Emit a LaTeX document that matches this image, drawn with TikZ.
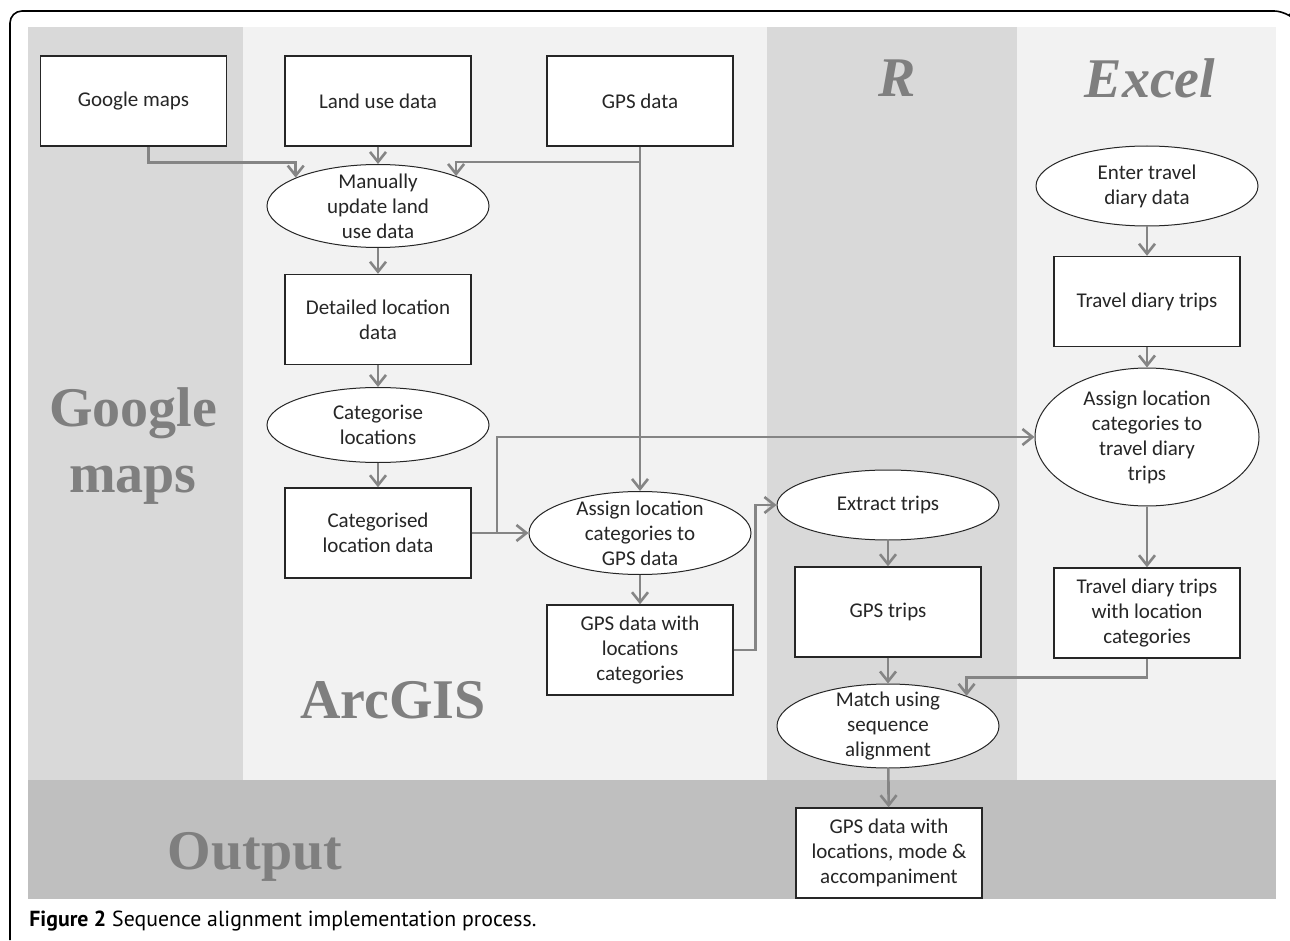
\documentclass[tikz,border=0pt]{standalone}
\usepackage{fontspec}
\setmainfont{Carlito}
\newfontfamily\capfont{PT Sans}
\newfontfamily\bigfont{Liberation Serif}
\usetikzlibrary{shapes.geometric, arrows.meta}
\definecolor{darkpanel}{HTML}{D9D9D9}
\definecolor{lightpanel}{HTML}{F2F2F2}
\definecolor{outband}{HTML}{BFBFBF}
\definecolor{zonegray}{HTML}{7F7F7F}
\definecolor{linkgray}{HTML}{858585}
\newcommand{\boxfont}{\fontsize{10.5}{12.5}\selectfont}
\tikzset{
    >={Straight Barb[length=5pt, width=8pt]}, % open arrow heads
    databox/.style={draw=black!85, line width=0.7pt, fill=white, minimum width=93pt, minimum height=45pt, align=center, font=\boxfont, text=black!85}, % data boxes
    procell/.style={ellipse, draw=black!85, line width=0.5pt, fill=white, minimum width=111pt, minimum height=41.5pt, inner sep=0pt,
        label={[align=center, font=\boxfont, text=black!85]center:#1}}, % process ellipses, text laid over them
    link/.style={->, draw=linkgray, line width=1.3pt}, % grey connectors
    zone/.style={font=\bigfont\bfseries\fontsize{28}{33}\selectfont, text=zonegray, align=center} % column titles
}

\begin{document}
\begin{tikzpicture}[x=0.5pt, y=-0.5pt]
    \useasboundingbox (0,0) rectangle (1290,941);

    % Columns
    \fill[darkpanel] (28,27) rectangle (243,780);
    \fill[lightpanel] (243,27) rectangle (767,780);
    \fill[darkpanel] (767,27) rectangle (1017,780);
    \fill[lightpanel] (1017,27) rectangle (1276,780);
    \fill[outband] (28,780) rectangle (1276,899);
    \draw[line width=0.8pt, rounded corners=6pt] (10,940) -- (10,11) -- (1286,11) -- (1289,14);

    % Column titles
    \node[zone] (ZG) at (133,446) {Google\\maps};
    \node[zone] (ZA) at (393,700) {ArcGIS};
    \node[zone, font=\bigfont\bfseries\itshape\fontsize{28}{33}\selectfont] (ZR) at (897,78) {R};
    \node[zone, font=\bigfont\bfseries\itshape\fontsize{28}{33}\selectfont] (ZE) at (1150,78) {Excel};
    \node[zone] (ZO) at (255,857) {Output};

    % Sources
    \node[databox] (GM) at (133.5,101) {Google maps};
    \node[databox] (LU) at (378,101) {Land use data};
    \node[databox] (GPS) at (640,101) {GPS data};

    % ArcGIS
    \node[procell={Manually\\update land\\use data}] (MU) at (378,206) {};
    \node[databox] (DL) at (378,319.5) {Detailed location\\data};
    \node[procell={Categorise\\locations}, minimum height=37.5pt] (CG) at (378,425) {};
    \node[databox] (CL) at (378,533) {Categorised\\location data};
    \node[procell={Assign location\\categories to\\GPS data}] (AG) at (640,533) {};
    \node[databox] (GL) at (640,650) {GPS data with\\locations\\categories};

    % R
    \node[procell={Extract trips}, minimum height=35pt] (ET) at (888,505) {};
    \node[databox] (GT) at (888,612) {GPS trips};
    \node[procell={Match using\\sequence\\alignment}, minimum height=42pt] (MA) at (888,726) {};

    % Excel
    \node[procell={Enter travel\\diary data}, minimum height=40pt] (ED) at (1147,186) {};
    \node[databox] (TD) at (1147,301.5) {Travel diary trips};
    \node[procell={Assign location\\categories to\\travel diary\\trips}, minimum width=112pt, minimum height=69pt] (AT) at (1147,437) {};
    \node[databox] (TL) at (1147,613) {Travel diary trips\\with location\\categories};

    % Output
    \node[databox] (OUT) at (889,853) {GPS data with\\locations, mode \&\\accompaniment};

    % Caption
    \node[anchor=west, inner sep=0pt, font=\capfont\fontsize{10.9}{13}\selectfont] (CAP) at (29,921) {\textbf{Figure 2} Sequence alignment implementation process.};

    % Connections
    \coordinate (split) at (640,162);
    \coordinate (fork) at (497,533);
    \draw[link] ([xshift=7.5pt]GM.south) -- ++(0,16) -| (MU.161);
    \draw[link] (LU) -- (MU);
    \draw[link] (GPS) -- (AG);
    \draw[link] (split) -| (MU.21);
    \draw[link] (MU) -- (DL);
    \draw[link] (DL) -- (CG);
    \draw[link] (CG) -- (CL);
    \draw[link] (CL) -- (AG);
    \draw[link] (fork) |- (AT.west);
    \draw[link] (AG) -- (GL);
    \draw[link] (GL.east) -- ++(22,0) |- (ET.west);
    \draw[link] (ET) -- (GT);
    \draw[link] (GT) -- (MA);
    \draw[link] (ED) -- (TD);
    \draw[link] (TD) -- (AT);
    \draw[link] (AT) -- (TL);
    \draw[link] (TL.south) -- ++(0,19) -| (MA.21);
    \draw[link] (MA) -- (OUT);
\end{tikzpicture}
\end{document}
